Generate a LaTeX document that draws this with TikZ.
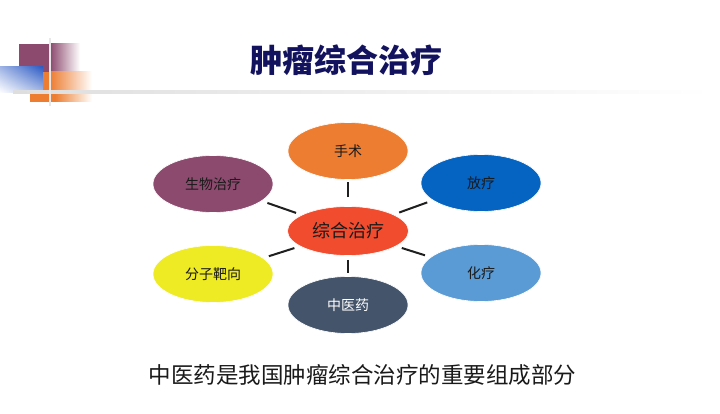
\documentclass[tikz,border=0pt]{standalone}
\usepackage{fontspec}
\setmainfont{Noto Sans CJK SC}
\usetikzlibrary{shapes.geometric,shadings}
\definecolor{cOrange}{HTML}{ED7D31}
\definecolor{cPurple}{HTML}{8C4A6E}
\definecolor{cBlue}{HTML}{0563C1}
\definecolor{cRed}{HTML}{F24C2E}
\definecolor{cYellow}{HTML}{EEEA24}
\definecolor{cLight}{HTML}{5B9BD5}
\definecolor{cSlate}{HTML}{44546A}
\definecolor{cDecBlue}{HTML}{2E5CC4}
\definecolor{cTitle}{HTML}{12125E}
\definecolor{cText}{HTML}{1A1A1A}
\begin{document}
\begin{tikzpicture}[x=1pt,y=-1pt,
  bubble/.style={ellipse, minimum width=120pt, minimum height=57pt, inner sep=0pt,
    draw=white, line width=0.6pt, text=cText, font=\fontsize{14}{16}\selectfont},
  conn/.style={line width=2pt, draw=black!88}]
\useasboundingbox[fill=white] (0,0) rectangle (720,414);
% decoration top-left
\fill[cPurple] (19,44) rectangle (50,72);
\shade[left color=cPurple, right color=white] (50,44) rectangle (80,72);
\shade[upper left=cDecBlue!45, upper right=cDecBlue, lower left=white, lower right=cDecBlue!40] (0,67) rectangle (43,93);
\fill[cOrange] (43,72) rectangle (50,90);
\shade[left color=cOrange, right color=white] (50,72) rectangle (92,90);
\fill[cOrange] (30,94) rectangle (55,102);
\shade[left color=cOrange, right color=white] (55,94) rectangle (92,102);
\shade[left color=black!13, middle color=black!7, right color=white] (13,90.5) rectangle (712,93.5);
\fill[black!9] (48.5,38) rectangle (51,106);
% title
\node[font=\fontsize{32}{36}\selectfont\bfseries, text=cTitle, inner sep=0pt] (title) at (346,60) {肿瘤综合治疗};
% bubbles
\node[bubble, fill=cRed, minimum width=121pt, minimum height=49pt, font=\fontsize{18}{20}\selectfont] (c) at (348,231) {综合治疗};
\node[bubble, fill=cOrange] (ss) at (348,151) {手术};
\node[bubble, fill=cPurple] (sw) at (213,184) {生物治疗};
\node[bubble, fill=cBlue] (fl) at (481,183) {放疗};
\node[bubble, fill=cYellow] (fz) at (213,274) {分子靶向};
\node[bubble, fill=cLight] (hl) at (481,273) {化疗};
\node[bubble, fill=cSlate, text=white] (zy) at (348,305) {中医药};
% connectors
\draw[conn, shorten <=9pt, shorten >=2pt] (c) -- (ss);
\draw[conn, shorten <=6pt, shorten >=6pt] (c) -- (sw);
\draw[conn, shorten <=6pt, shorten >=6pt] (c) -- (fl);
\draw[conn, shorten <=6pt, shorten >=6pt] (c) -- (fz);
\draw[conn, shorten <=6pt, shorten >=6pt] (c) -- (hl);
\draw[conn, shorten <=4pt, shorten >=3pt] (c) -- (zy);
% bottom caption
\node[font=\fontsize{22.5}{26}\selectfont, text=cText, inner sep=0pt] (cap) at (362.5,375) {中医药是我国肿瘤综合治疗的重要组成部分};
\end{tikzpicture}
\end{document}
